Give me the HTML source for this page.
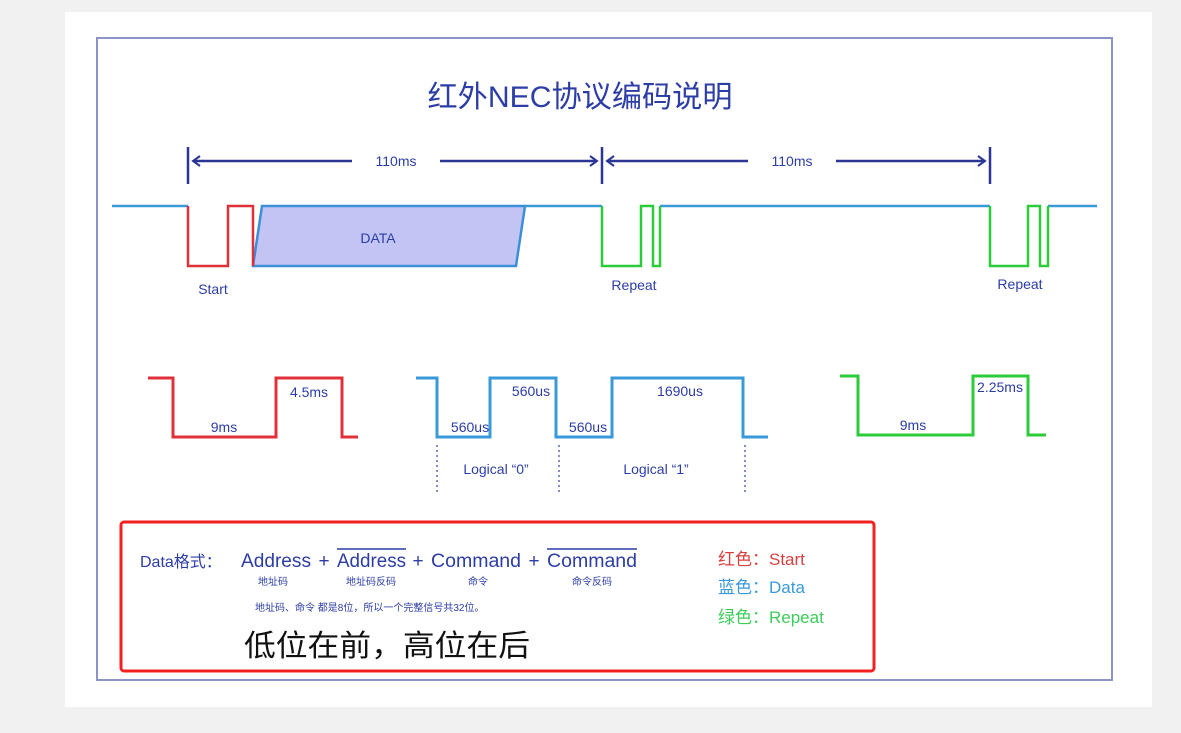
<!DOCTYPE html>
<html><head><meta charset="utf-8"><style>
html,body{margin:0;padding:0;background:#f1f1f1;}
svg{display:block;}
text{font-family:"Liberation Sans","Noto Sans CJK SC",sans-serif;}
</style></head><body>
<svg width="1181" height="733" viewBox="0 0 1181 733" xmlns="http://www.w3.org/2000/svg">
<rect x="0" y="0" width="1181" height="733" fill="#f1f1f1"/>
<rect x="65" y="12" width="1087" height="695" fill="#ffffff"/>
<rect x="97" y="38" width="1015" height="642" fill="#fff" stroke="#8c93c6" stroke-width="2"/>
<text x="580" y="107" text-anchor="middle" font-size="30" fill="#2c3da6" textLength="305" lengthAdjust="spacingAndGlyphs">红外NEC协议编码说明</text>

<g stroke="#2a3596" stroke-width="2.5" fill="#2a3596">
<line x1="188" y1="147" x2="188" y2="184"/>
<line x1="602" y1="147" x2="602" y2="184"/>
<line x1="990" y1="147" x2="990" y2="184"/>
<line x1="194" y1="161" x2="352" y2="161"/>
<line x1="440" y1="161" x2="596" y2="161"/>
<line x1="608" y1="161" x2="748" y2="161"/>
<line x1="836" y1="161" x2="984" y2="161"/>
</g>
<g fill="none" stroke="#2a3596" stroke-width="2">
<polyline points="200,156 193,161 200,166"/>
<polyline points="590,156 597,161 590,166"/>
<polyline points="614,156 607,161 614,166"/>
<polyline points="978,156 985,161 978,166"/>
</g>
<text x="396" y="166" text-anchor="middle" font-size="14" fill="#2c3da6">110ms</text>
<text x="792" y="166" text-anchor="middle" font-size="14" fill="#2c3da6">110ms</text>

<polygon points="253,266 262,206 525,206 516,266" fill="#c2c5f4" stroke="#3a8fd8" stroke-width="2.5"/>
<text x="378" y="243" text-anchor="middle" font-size="14" fill="#2c3da6">DATA</text>
<g fill="none" stroke-width="2.5">
<polyline stroke="#3a9ad8" points="112,206 188,206"/>
<polyline stroke="#3a9ad8" points="525,206 602,206"/>
<polyline stroke="#3a9ad8" points="660,206 990,206"/>
<polyline stroke="#3a9ad8" points="1048,206 1097,206"/>
<polyline stroke="#e0303a" points="188,206 188,266 228,266 228,206 253,206 253,266"/>
<polyline stroke="#2ccb3a" points="602,206 602,266 641,266 641,206 653,206 653,266 660,266 660,206"/>
<polyline stroke="#2ccb3a" points="990,206 990,266 1028,266 1028,206 1040,206 1040,266 1048,266 1048,206"/>
</g>
<text x="213" y="294" text-anchor="middle" font-size="14" fill="#2c3da6">Start</text>
<text x="634" y="290" text-anchor="middle" font-size="14" fill="#2c3da6">Repeat</text>
<text x="1020" y="289" text-anchor="middle" font-size="14" fill="#2c3da6">Repeat</text>

<g fill="none" stroke-width="3">
<polyline stroke="#e0303a" points="148,378 173,378 173,437 276,437 276,378 342,378 342,437 358,437"/>
<polyline stroke="#3a9ad8" points="416,378 437,378 437,437 490,437 490,378 556,378 556,437 612,437 612,378 743,378 743,437 768,437"/>
<polyline stroke="#2ccb3a" points="840,376 858,376 858,435 973,435 973,376 1028,376 1028,435 1046,435"/>
</g>
<g stroke="#5a6ab0" stroke-width="1.5" stroke-dasharray="2,3">
<line x1="437" y1="445" x2="437" y2="495"/>
<line x1="559" y1="445" x2="559" y2="495"/>
<line x1="745" y1="445" x2="745" y2="495"/>
</g>
<g font-size="14" fill="#2c3da6" text-anchor="middle">
<text x="224" y="432">9ms</text>
<text x="309" y="397">4.5ms</text>
<text x="470" y="432">560us</text>
<text x="531" y="396">560us</text>
<text x="588" y="432">560us</text>
<text x="680" y="396">1690us</text>
<text x="496" y="474">Logical “0”</text>
<text x="656" y="474">Logical “1”</text>
<text x="913" y="430">9ms</text>
<text x="1000" y="392">2.25ms</text>
</g>

<rect x="121" y="522" width="753" height="149" rx="3" fill="none" stroke="#f22020" stroke-width="3"/>
<g fill="#2c3da6">
<text x="140" y="567" font-size="16">Data格式：</text>
<text x="241" y="567" font-size="19" textLength="70" lengthAdjust="spacingAndGlyphs">Address</text>
<text x="324" y="567" font-size="19" text-anchor="middle">+</text>
<text x="337" y="567" font-size="19" textLength="69" lengthAdjust="spacingAndGlyphs">Address</text>
<text x="418" y="567" font-size="19" text-anchor="middle">+</text>
<text x="431" y="567" font-size="19" textLength="90" lengthAdjust="spacingAndGlyphs">Command</text>
<text x="534" y="567" font-size="19" text-anchor="middle">+</text>
<text x="547" y="567" font-size="19" textLength="90" lengthAdjust="spacingAndGlyphs">Command</text>
<line x1="337" y1="549" x2="406" y2="549" stroke="#2c3da6" stroke-width="1.5"/>
<line x1="547" y1="549" x2="637" y2="549" stroke="#2c3da6" stroke-width="1.5"/>
<text x="273" y="585" font-size="10" text-anchor="middle">地址码</text>
<text x="371" y="585" font-size="10" text-anchor="middle">地址码反码</text>
<text x="478" y="585" font-size="10" text-anchor="middle">命令</text>
<text x="592" y="585" font-size="10" text-anchor="middle">命令反码</text>
<text x="255" y="611" font-size="10">地址码、命令 都是8位，所以一个完整信号共32位。</text>
</g>
<text x="244" y="656" font-size="30" fill="#111" textLength="286" lengthAdjust="spacingAndGlyphs">低位在前，高位在后</text>
<text x="718" y="565" font-size="17" fill="#d84040">红色：Start</text>
<text x="718" y="593" font-size="17" fill="#3a9ad8">蓝色：Data</text>
<text x="718" y="623" font-size="17" fill="#3ccc5a">绿色：Repeat</text>
</svg>
</body></html>
